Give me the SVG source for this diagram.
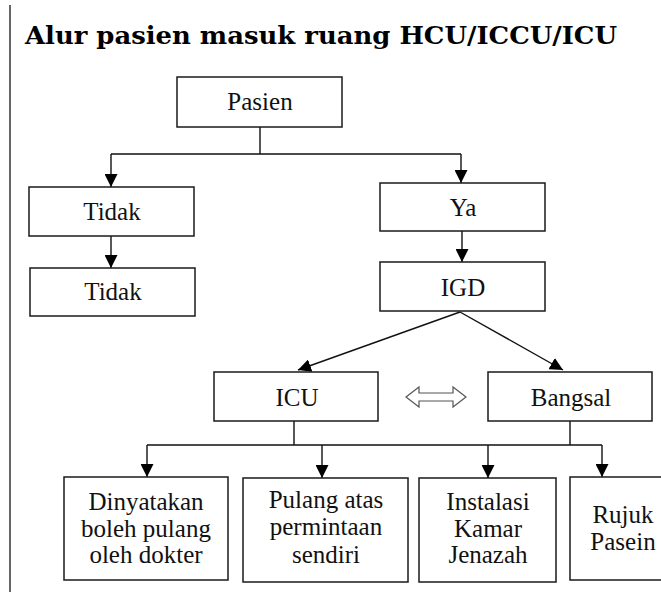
<svg xmlns="http://www.w3.org/2000/svg" width="661" height="594" viewBox="0 0 661 594">
<style>
.box{fill:#fff;stroke:#1a1a1a;stroke-width:1.5}
.t{font-family:"Liberation Serif",serif;font-size:25px;fill:#111;text-anchor:middle}
.c{fill:none;stroke:#111;stroke-width:1.4}
.title{font-family:"DejaVu Serif","Liberation Serif",serif;font-weight:bold;font-size:24px;fill:#000}
</style>
<defs>
<marker id="ah" markerUnits="userSpaceOnUse" markerWidth="13" markerHeight="13" refX="13" refY="6.5" orient="auto">
<path d="M0,0 L13,6.5 L0,13 z" fill="#000"/>
</marker>
</defs>
<rect width="661" height="594" fill="#fff"/>
<line x1="10" y1="5" x2="10" y2="592" stroke="#666" stroke-width="2"/>
<text class="title" x="25" y="44" textLength="592" lengthAdjust="spacingAndGlyphs">Alur pasien masuk ruang HCU/ICCU/ICU</text>

<g id="connectors">
<path class="c" d="M260,127 V154 M111,154 H461"/>
<path class="c" d="M111,154 V187" marker-end="url(#ah)"/>
<path class="c" d="M461,154 V183" marker-end="url(#ah)"/>
<path class="c" d="M111,236 V268" marker-end="url(#ah)"/>
<path class="c" d="M462,231 V262" marker-end="url(#ah)"/>
<path class="c" d="M460,312 L298,370" marker-end="url(#ah)"/>
<path class="c" d="M460,312 L563,370" marker-end="url(#ah)"/>
<path class="c" d="M294,421 V445 M570,421 V445 M147,445 H602"/>
<path class="c" d="M147,445 V477" marker-end="url(#ah)"/>
<path class="c" d="M322,445 V478" marker-end="url(#ah)"/>
<path class="c" d="M488,445 V478" marker-end="url(#ah)"/>
<path class="c" d="M602,445 V477" marker-end="url(#ah)"/>
<polygon points="406,397 419,387 419,393 453,393 453,387 466,397 453,407 453,401 419,401 419,407" fill="#fff" stroke="#555" stroke-width="1.2"/>
</g>

<g id="pasien"><rect class="box" x="177" y="77" width="165" height="50"/><text class="t" x="260" y="110">Pasien</text></g>
<g id="tidak1"><rect class="box" x="29" y="187" width="165" height="49"/><text class="t" x="112" y="220">Tidak</text></g>
<g id="tidak2"><rect class="box" x="30" y="268" width="165" height="48"/><text class="t" x="113" y="300">Tidak</text></g>
<g id="ya"><rect class="box" x="380" y="183" width="165" height="48"/><text class="t" x="463" y="216">Ya</text></g>
<g id="igd"><rect class="box" x="380" y="262" width="165" height="49"/><text class="t" x="463" y="296">IGD</text></g>
<g id="icu"><rect class="box" x="214" y="372" width="164" height="49"/><text class="t" x="297" y="406">ICU</text></g>
<g id="bangsal"><rect class="box" x="488" y="372" width="164" height="49"/><text class="t" x="571" y="406">Bangsal</text></g>
<g id="dinyatakan"><rect class="box" x="64" y="477" width="164" height="103"/>
<text class="t" x="146" y="510">Dinyatakan</text><text class="t" x="146" y="537">boleh pulang</text><text class="t" x="146" y="563">oleh dokter</text></g>
<g id="pulang"><rect class="box" x="243" y="478" width="165" height="104"/>
<text class="t" x="326" y="508">Pulang atas</text><text class="t" x="326" y="535">permintaan</text><text class="t" x="326" y="563">sendiri</text></g>
<g id="instalasi"><rect class="box" x="419" y="478" width="137" height="104"/>
<text class="t" x="488" y="510">Instalasi</text><text class="t" x="488" y="537">Kamar</text><text class="t" x="488" y="563">Jenazah</text></g>
<g id="rujuk"><rect class="box" x="570" y="477" width="100" height="103"/>
<text class="t" x="623" y="523">Rujuk</text><text class="t" x="623" y="550">Pasein</text></g>
</svg>
